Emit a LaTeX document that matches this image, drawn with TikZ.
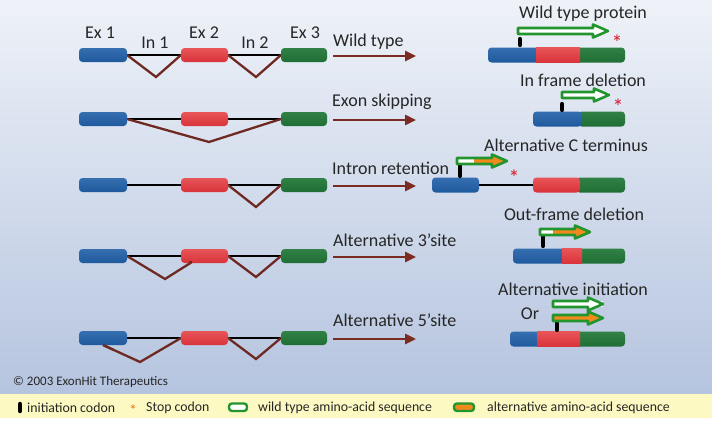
\documentclass[tikz,border=0pt]{standalone}
\usepackage{fontspec}
\setmainfont{Carlito}
\usetikzlibrary{arrows.meta,calc}
\definecolor{bgtop}{HTML}{EEF2F8}
\definecolor{bgbot}{HTML}{B5C4DF}
\definecolor{legbg}{HTML}{FDF9C2}
\definecolor{bluD}{HTML}{1F5A9E}
\definecolor{bluL}{HTML}{6A9FD8}
\definecolor{redD}{HTML}{D8323A}
\definecolor{redL}{HTML}{FF8A86}
\definecolor{grnD}{HTML}{1F6E35}
\definecolor{grnL}{HTML}{5BAE6C}
\definecolor{brn}{HTML}{6E2A22}
\definecolor{arrbrn}{HTML}{7B2B22}
\definecolor{pgrn}{HTML}{23952F}
\definecolor{porg}{HTML}{F08A1C}
\definecolor{stopred}{HTML}{D8182A}
\pgfdeclarelayer{back}
\pgfdeclarelayer{lines}
\pgfsetlayers{back,lines,main}
\tikzset{
  seg/.style={inner sep=0pt, outer sep=0pt, anchor=west, minimum height=14pt},
  bseg/.style={seg, top color=bluD!70!bluL, middle color=bluL, bottom color=bluD},
  rseg/.style={seg, top color=redD!60!redL, middle color=redL, bottom color=redD},
  gseg/.style={seg, top color=grnD!70!grnL, middle color=grnL, bottom color=grnD},
  rnd/.style={rounded corners=3.5pt},
  lab/.style={font=\fontsize{18}{20}\selectfont, inner sep=0pt, text=black!85},
  leglab/.style={font=\fontsize{13.8}{15}\selectfont, inner sep=0pt, anchor=west, text=black!85},
  intron/.style={line width=2pt, black},
  splice/.style={line width=2.3pt, brn, line join=miter},
  brarrow/.style={line width=2.6pt, arrbrn, -{Triangle[length=11pt,width=10pt]}},
  codon/.style={line width=4.2pt, line cap=round, black},
  stopmark/.style={font=\fontsize{22}{22}\selectfont, text=stopred, inner sep=0pt},
}
\newcommand{\protarr}[5]{%
  \fill[#5] (#1,{#3-3}) -- ({#2-15},{#3-3}) -- ({#2-15},{#3-6.5}) -- (#2,#3) -- ({#2-15},{#3+6.5}) -- ({#2-15},{#3+3}) -- (#1,{#3+3}) -- cycle;
  \fill[white] (#1,{#3-3}) rectangle (#4,{#3+3});
  \draw[pgrn, line width=2.6pt, line join=round] (#1,{#3-3}) -- ({#2-15},{#3-3}) -- ({#2-15},{#3-6.5}) -- (#2,#3) -- ({#2-15},{#3+6.5}) -- ({#2-15},{#3+3}) -- (#1,{#3+3}) -- cycle;
}
\begin{document}
\begin{tikzpicture}[x=1pt,y=-1pt]
\useasboundingbox (0,0) rectangle (712,423);
\begin{pgfonlayer}{back}
\shade[top color=bgtop, bottom color=bgbot] (0,0) rectangle (712,394);
\fill[legbg] (0,394) rectangle (712,418);
\fill[white] (0,418) rectangle (712,423);
\end{pgfonlayer}

% ---------- header labels
\node[lab] (hex1) at (100,33) {Ex 1};
\node[lab] (hin1) at (155,43) {In 1};
\node[lab] (hex2) at (204,33) {Ex 2};
\node[lab] (hin2) at (255,43) {In 2};
\node[lab] (hex3) at (305,33) {Ex 3};

% ---------- genes (left)
\foreach \r/\y in {1/55,2/119,3/185,4/256,5/338}{
  \node[bseg, rnd, minimum width=48pt] (e\r a) at (79,\y) {};
  \node[rseg, rnd, minimum width=47pt] (e\r b) at (181,\y) {};
  \node[gseg, rnd, minimum width=46pt] (e\r c) at (281,\y) {};
  \begin{pgfonlayer}{lines}
  \draw[intron] (e\r a.east) -- (e\r b.west);
  \draw[intron] (e\r b.east) -- (e\r c.west);
  \end{pgfonlayer}
  \coordinate (as\r) at (333,\y+1);
  \coordinate (ae\r) at (416,\y+1);
  \draw[brarrow] (as\r) -- (ae\r);
}
\coordinate (v1a) at (156,77);
\coordinate (v1b) at (256,77);
\coordinate (v2a) at (209,142);
\coordinate (v3b) at (256,207);
\coordinate (v4a) at (165,279);
\coordinate (v4e) at (192,262);
\coordinate (v4b) at (256,277);
\coordinate (v5a) at (140,362);
\coordinate (v5b) at (256,359);
\begin{pgfonlayer}{lines}
\draw[splice] (e1a.east) -- (v1a) -- (e1b.west);
\draw[splice] (e1b.east) -- (v1b) -- (e1c.west);
\draw[splice] (e2a.east) -- (v2a) -- (e2c.west);
\draw[splice] (e3b.east) -- (v3b) -- (e3c.west);
\draw[splice] (e4a.east) -- (v4a) -- (v4e);
\draw[splice] (e4b.east) -- (v4b) -- (e4c.west);
\draw[splice] (e5a.south) -- (v5a) -- (e5b.west);
\draw[splice] (e5b.east) -- (v5b) -- (e5c.west);
\end{pgfonlayer}
\draw[splice] ($(e4b.south west)+(8,-1)$) -- (v4e);
\draw[splice] (e5a.south) -- ($(e5a.south)!0.3!(v5a)$);

% ---------- row labels
\node[lab, anchor=west] (l1) at (333,42) {Wild type};
\node[lab, anchor=west] (l2) at (332,102) {Exon skipping};
\node[lab, anchor=west] (l3) at (332,168) {Intron retention};
\node[lab, anchor=west] (l4) at (333,240) {Alternative 3'site};
\node[lab, anchor=west] (l5) at (333,320) {Alternative 5'site};

% ---------- proteins (right)
% row 1
\node[lab] (t1) at (583,14) {Wild type protein};
\node[gseg, rnd, minimum height=15pt, minimum width=49pt] (p1c) at (576,55) {};
\node[bseg, rnd, minimum height=15pt, minimum width=52pt] (p1a) at (488,55) {};
\node[rseg, minimum height=15pt, minimum width=44pt] (p1b) at (536,55) {};
\draw[codon] (520,45) -- (520,39);
\protarr{518}{608}{31}{608}{white}
\node[stopmark] (s1) at (617,43) {*};
% row 2
\node[lab] (t2) at (583,80) {In frame deletion};
\node[gseg, rnd, minimum height=15pt, minimum width=47pt] (p2c) at (578,119) {};
\node[bseg, rnd, minimum height=15pt, minimum width=49pt] (p2a) at (533,119) {};
\draw[codon] (562,110) -- (562,104);
\protarr{562}{609}{95}{609}{white}
\node[stopmark] (s2) at (618,107) {*};
% row 3
\node[lab] (t3) at (566,145) {Alternative C terminus};
\node[bseg, rnd, minimum height=15pt, minimum width=47pt] (p3a) at (432,185) {};
\node[gseg, rnd, minimum height=15pt, minimum width=49pt] (p3c) at (576,185) {};
\node[rseg, rnd, minimum height=15pt, minimum width=47pt] (p3b) at (533,185) {};
\begin{pgfonlayer}{lines}
\draw[intron] (p3a.east) -- (p3b.west);
\end{pgfonlayer}
\draw[codon] (460,176) -- (460,163);
\protarr{457}{507}{161}{474}{porg}
\node[stopmark] (s3) at (514,178) {*};
% row 4
\node[lab] (t4) at (574,214) {Out-frame deletion};
\node[gseg, rnd, minimum height=15pt, minimum width=47pt] (p4c) at (578,256) {};
\node[bseg, rnd, minimum height=15pt, minimum width=52pt] (p4a) at (513,256) {};
\node[rseg, minimum height=15pt, minimum width=20pt] (p4b) at (562,256) {};
\draw[codon] (543,246) -- (543,234);
\protarr{540}{590}{232}{553}{porg}
% row 5
\node[lab] (t5) at (573,289) {Alternative initiation};
\node[lab] (or5) at (530,314) {Or};
\node[gseg, rnd, minimum height=15pt, minimum width=49pt] (p5c) at (576,339) {};
\node[bseg, rnd, minimum height=15pt, minimum width=31pt] (p5a) at (510,339) {};
\node[rseg, minimum height=15pt, minimum width=43pt] (p5b) at (537,339) {};
\draw[codon] (557,330) -- (557,323);
\protarr{553}{603}{304}{603}{white}
\protarr{553}{603}{318}{553}{porg}

% ---------- copyright
\node[anchor=west, inner sep=0pt, font=\fontsize{13}{14}\selectfont, text=black!85] (copy) at (13,382) {© 2003 ExonHit Therapeutics};

% ---------- legend
\draw[line width=4.5pt, line cap=round, black] (20,404) -- (20,411);
\node[leglab] (lg1) at (27,408) {initiation codon};
\node[stopmark, font=\fontsize{15}{15}\selectfont, text=porg!80!red] (lgs) at (133,410) {*};
\node[leglab] (lg2) at (146,408) {Stop codon};
\draw[pgrn, line width=2.4pt, fill=white, rounded corners=3pt] (229,403.5) rectangle (247,411);
\node[leglab] (lg3) at (258,408) {wild type amino-acid sequence};
\draw[pgrn, line width=2.4pt, fill=porg, rounded corners=3pt] (454,403.5) rectangle (474,411);
\node[leglab] (lg4) at (487,408) {alternative amino-acid sequence};
\end{tikzpicture}
\end{document}
